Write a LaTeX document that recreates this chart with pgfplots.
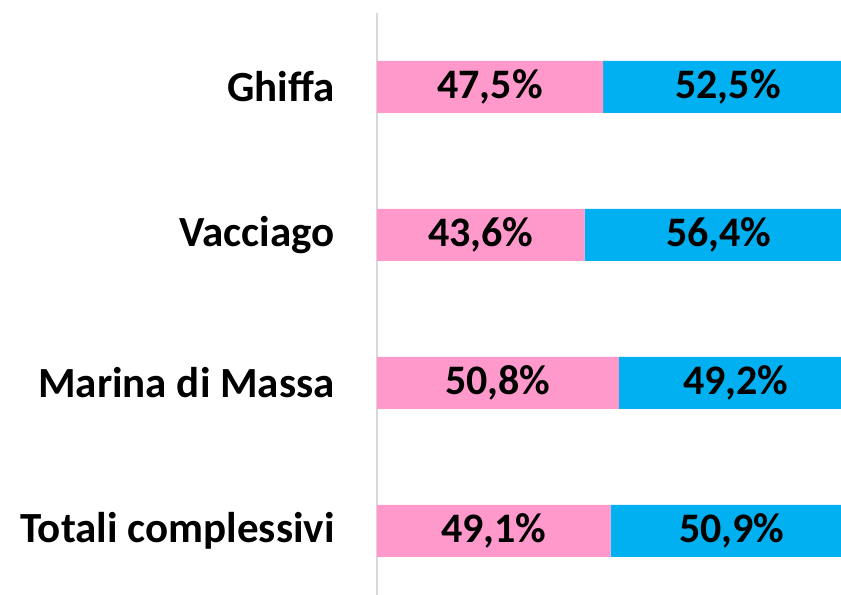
\documentclass[border=0pt]{standalone}
\usepackage{pgfplots}
\pgfplotsset{compat=1.18}
\usepackage{fontspec}
\setmainfont{Carlito}
\definecolor{pinkc}{HTML}{FF99CC}
\definecolor{bluec}{HTML}{00B0F0}
\begin{document}
\begin{tikzpicture}
\useasboundingbox (-188.5pt,0) rectangle (232pt,297.3pt);
\begin{axis}[
  at={(0,0)}, anchor=south west,
  xbar stacked, scale only axis,
  width=238pt, height=290.8pt,
  xmin=0, xmax=100, ymin=-0.43, ymax=3.5,
  bar width=26pt,
  axis x line=none, axis y line=left,
  y axis line style={-, draw=black!15, line width=0.75pt},
  major tick length=0pt,
  ytick={0,1,2,3},
  yticklabels={Totali complessivi, Marina di Massa, Vacciago, Ghiffa},
  yticklabel style={font=\fontsize{21.5}{25}\selectfont\bfseries, anchor=east, inner sep=0pt, xshift=-21pt},
  /pgf/number format/assume math mode=true,
  nodes near coords={\pgfmathprintnumber[fixed, precision=1, fixed zerofill, use comma]{\pgfplotspointmeta}\%},
  every node near coord/.append style={font=\fontsize{21}{25}\selectfont\bfseries, anchor=center, text=black},
]
\addplot[fill=pinkc, draw=none] coordinates {(49.1,0) (50.8,1) (43.6,2) (47.5,3)};
\addplot[fill=bluec, draw=none] coordinates {(50.9,0) (49.2,1) (56.4,2) (52.5,3)};
\end{axis}
\end{tikzpicture}
\end{document}
